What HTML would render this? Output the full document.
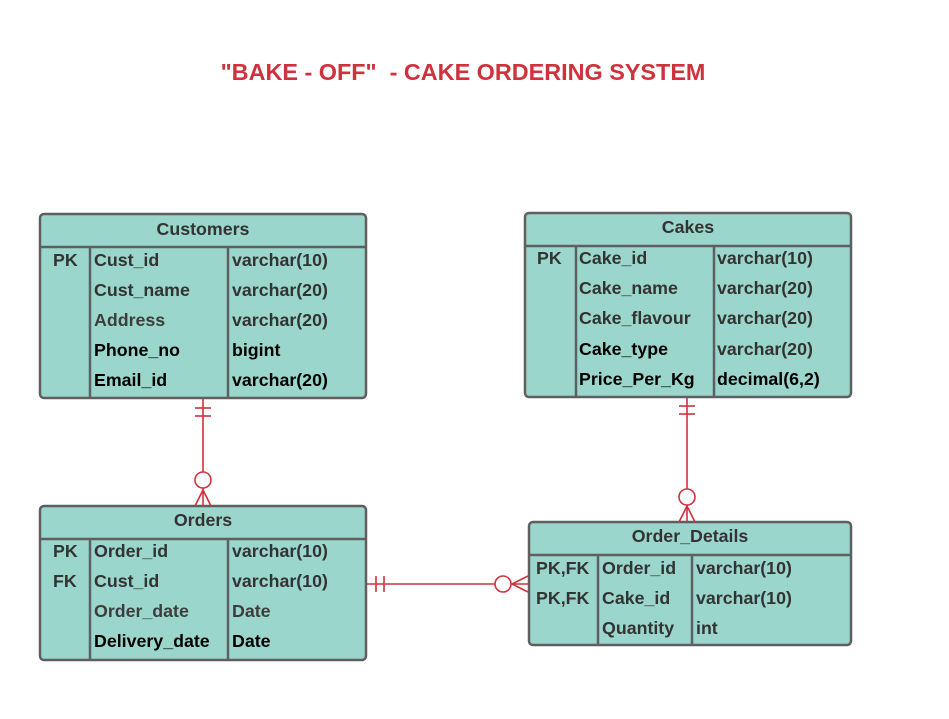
<!DOCTYPE html>
<html><head><meta charset="utf-8"><style>
html,body{margin:0;padding:0;background:#fff;}
svg{display:block;}
text{font-family:"Liberation Sans",Arial,sans-serif;font-weight:bold;font-size:17.8px;fill:#333;}
.b{fill:#000;}
.g{fill:#3d3d3d;}
.h{text-anchor:middle;}
</style></head><body>
<svg width="949" height="719" viewBox="0 0 949 719" xmlns="http://www.w3.org/2000/svg">
<text x="463" y="80" class="h" style="font-size:23.4px;fill:#d0313d;white-space:pre" xml:space="preserve">"BAKE - OFF"  - CAKE ORDERING SYSTEM</text>

<g fill="#9ad6cb" stroke="#5f5f5f" stroke-width="2.5">
<rect x="40" y="214" width="326" height="184" rx="4"/>
<rect x="525" y="213" width="326" height="184" rx="4"/>
<rect x="40" y="506" width="326" height="154" rx="4"/>
<rect x="529" y="522" width="322" height="123" rx="4"/>
</g>
<g stroke="#5f5f5f" stroke-width="2.5">
<line x1="40" y1="247" x2="366" y2="247"/><line x1="90" y1="247" x2="90" y2="398"/><line x1="228" y1="247" x2="228" y2="398"/>
<line x1="525" y1="246" x2="851" y2="246"/><line x1="576" y1="246" x2="576" y2="397"/><line x1="714" y1="246" x2="714" y2="397"/>
<line x1="40" y1="539" x2="366" y2="539"/><line x1="90" y1="539" x2="90" y2="660"/><line x1="228" y1="539" x2="228" y2="660"/>
<line x1="529" y1="555" x2="851" y2="555"/><line x1="598" y1="555" x2="598" y2="645"/><line x1="692" y1="555" x2="692" y2="645"/>
</g>

<!-- Customers -->
<text x="203" y="235" class="h">Customers</text>
<text x="53" y="266">PK</text>
<text x="94" y="266">Cust_id</text><text x="232" y="266">varchar(10)</text>
<text x="94" y="296">Cust_name</text><text x="232" y="296">varchar(20)</text>
<text x="94" y="326" class="g">Address</text><text x="232" y="326">varchar(20)</text>
<text x="94" y="356" class="b">Phone_no</text><text x="232" y="356" class="b">bigint</text>
<text x="94" y="386" class="b">Email_id</text><text x="232" y="386" class="b">varchar(20)</text>

<!-- Cakes -->
<text x="688" y="233" class="h">Cakes</text>
<text x="537" y="264">PK</text>
<text x="579" y="264">Cake_id</text><text x="717" y="264">varchar(10)</text>
<text x="579" y="294">Cake_name</text><text x="717" y="294">varchar(20)</text>
<text x="579" y="324">Cake_flavour</text><text x="717" y="324">varchar(20)</text>
<text x="579" y="355" class="b">Cake_type</text><text x="717" y="355">varchar(20)</text>
<text x="579" y="385" class="b">Price_Per_Kg</text><text x="717" y="385" class="b">decimal(6,2)</text>

<!-- Orders -->
<text x="203" y="526" class="h">Orders</text>
<text x="53" y="557">PK</text>
<text x="53" y="587">FK</text>
<text x="94" y="557">Order_id</text><text x="232" y="557">varchar(10)</text>
<text x="94" y="587">Cust_id</text><text x="232" y="587">varchar(10)</text>
<text x="94" y="617" class="g">Order_date</text><text x="232" y="617" class="g">Date</text>
<text x="94" y="647" class="b">Delivery_date</text><text x="232" y="647" class="b">Date</text>

<!-- Order_Details -->
<text x="690" y="542" class="h">Order_Details</text>
<text x="536" y="574">PK,FK</text>
<text x="536" y="604">PK,FK</text>
<text x="602" y="574">Order_id</text><text x="696" y="574">varchar(10)</text>
<text x="602" y="604">Cake_id</text><text x="696" y="604">varchar(10)</text>
<text x="602" y="634">Quantity</text><text x="696" y="634">int</text>

<!-- connectors -->
<g stroke="#d0313d" stroke-width="1.6" fill="none">
<line x1="203" y1="399" x2="203" y2="472"/>
<line x1="195" y1="408" x2="211" y2="408"/><line x1="195" y1="416" x2="211" y2="416"/>
<circle cx="203" cy="480" r="8" fill="#fff"/>
<line x1="203" y1="488" x2="203" y2="506"/><line x1="203" y1="490" x2="195" y2="506"/><line x1="203" y1="490" x2="211" y2="506"/>

<line x1="687" y1="398" x2="687" y2="489"/>
<line x1="679" y1="406" x2="695" y2="406"/><line x1="679" y1="414" x2="695" y2="414"/>
<circle cx="687" cy="497" r="8" fill="#fff"/>
<line x1="687" y1="505" x2="687" y2="522"/><line x1="687" y1="506" x2="679" y2="522"/><line x1="687" y1="506" x2="695" y2="522"/>

<line x1="367" y1="584" x2="495" y2="584"/>
<line x1="376" y1="576" x2="376" y2="592"/><line x1="384" y1="576" x2="384" y2="592"/>
<circle cx="503" cy="584" r="8" fill="#fff"/>
<line x1="511" y1="584" x2="529" y2="584"/><line x1="512" y1="584" x2="528" y2="576"/><line x1="512" y1="584" x2="528" y2="592"/>
</g>
</svg>
</body></html>
